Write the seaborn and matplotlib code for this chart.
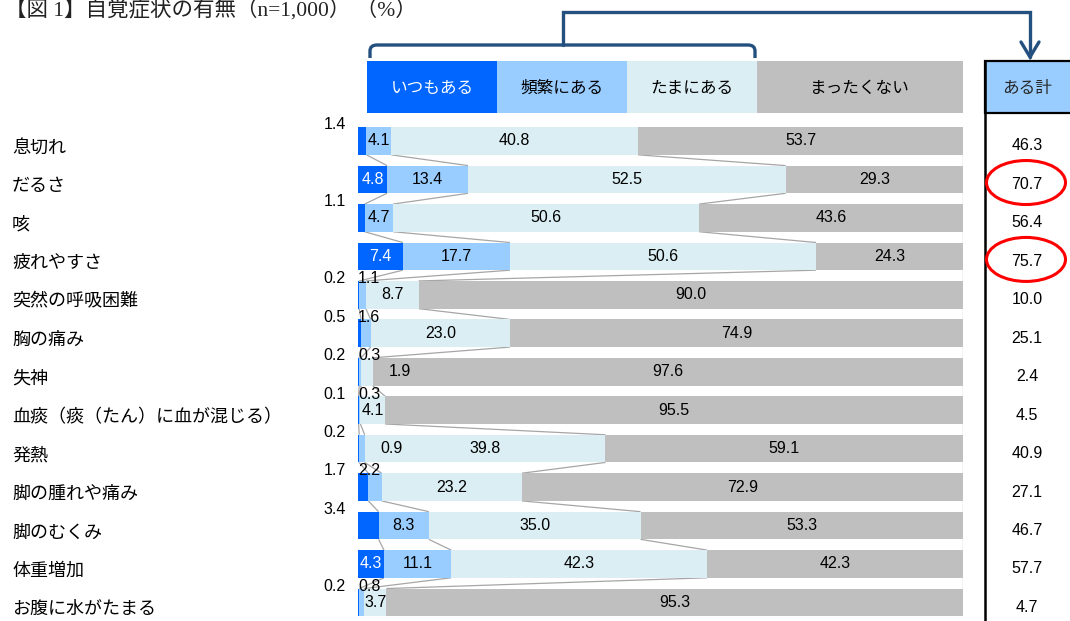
import numpy as np
import pandas as pd
import matplotlib
matplotlib.use("Agg")
import matplotlib.pyplot as plt
import seaborn as sns
from matplotlib.patches import Rectangle, Ellipse, PathPatch
from matplotlib.path import Path
from matplotlib.transforms import blended_transform_factory, ScaledTranslation

# ---- data (%) ----
symptoms = ["息切れ", "だるさ", "咳", "疲れやすさ", "突然の呼吸困難", "胸の痛み", "失神",
            "血痰（痰（たん）に血が混じる）", "発熱", "脚の腫れや痛み", "脚のむくみ",
            "体重増加", "お腹に水がたまる"]
always = [1.4, 4.8, 1.1, 7.4, 0.2, 0.5, 0.2, 0.1, 0.2, 1.7, 3.4, 4.3, 0.2]
often = [4.1, 13.4, 4.7, 17.7, 1.1, 1.6, 0.3, 0.3, 0.9, 2.2, 8.3, 11.1, 0.8]
sometimes = [40.8, 52.5, 50.6, 50.6, 8.7, 23.0, 1.9, 4.1, 39.8, 23.2, 35.0, 42.3, 3.7]
never = [53.7, 29.3, 43.6, 24.3, 90.0, 74.9, 97.6, 95.5, 59.1, 72.9, 53.3, 42.3, 95.3]
any_total = [46.3, 70.7, 56.4, 75.7, 10.0, 25.1, 2.4, 4.5, 40.9, 27.1, 46.7, 57.7, 4.7]
series_names = ["いつもある", "頻繁にある", "たまにある", "まったくない"]
total_name = "ある計"
title = "【図 1】自覚症状の有無（n=1,000） （%）"

colors = ["#0066FF", "#99CCFF", "#DAEEF3", "#BFBFBF"]
navy = "#24507F"
link_gray = "#A6A6A6"

sns.set_theme(style="white")
plt.rcParams["font.family"] = ["Liberation Sans", "Noto Sans CJK JP", "DejaVu Sans"]
JP = ["Noto Sans CJK JP", "DejaVu Sans"]

W, H = 1070, 621
fig = plt.figure(figsize=(W / 100, H / 100), dpi=100)
fig.patch.set_facecolor("white")

# pixel-space overlay for header, bracket and the total column
ov = fig.add_axes([0, 0, 1, 1])
ov.set_xlim(0, W)
ov.set_ylim(H, 0)
ov.axis("off")

# main bar axes
x_left, x_right = 358, 963
row0, pitch = 141, 38.45
n = len(symptoms)
top_px = row0 - pitch / 2
bot_px = row0 + (n - 0.5) * pitch
ax = fig.add_axes([x_left / W, 1 - bot_px / H, (x_right - x_left) / W, (bot_px - top_px) / H])
ax.patch.set_alpha(0)

series = [always, often, sometimes, never]
cum = np.cumsum(np.array(series, dtype=float), axis=0)  # shape (4, n)

# stacked bars: draw cumulative totals from the outermost segment inwards
for k in range(3, -1, -1):
    df = pd.DataFrame({"symptom": symptoms, "value": cum[k]})
    sns.barplot(data=df, x="value", y="symptom", orient="h", color=colors[k],
                saturation=1, width=0.72, errorbar=None, linewidth=0, ax=ax, zorder=2)

ax.set_xlim(0, 100)
ax.set_ylim(n - 0.5, -0.5)
ax.set_xlabel("")
ax.set_ylabel("")
ax.set_xticks([])
for s in ax.spines.values():
    s.set_visible(False)

# category labels, left aligned at the figure edge
ax.tick_params(axis="y", length=0, pad=(x_left - 12) * 0.72)
shift = ScaledTranslation(0, -5 / 100, fig.dpi_scale_trans)
for lab in ax.get_yticklabels():
    lab.set_ha("left")
    lab.set_fontfamily(JP)
    lab.set_fontsize(13)
    lab.set_color("black")
    lab.set_transform(lab.get_transform() + shift)

# series lines linking segment boundaries of adjacent bars
half = 0.36
for k in range(4):
    for i in range(n - 1):
        ax.plot([cum[k][i], cum[k][i + 1]], [i + half, i + 1 - half],
                color=link_gray, lw=0.9, zorder=1, solid_capstyle="butt")

# value labels
nudged = {("発熱", 1), ("失神", 2)}
px = 100 / (x_right - x_left)  # data units per pixel
fs = 11.5
for i, name in enumerate(symptoms):
    above_y = i - half - 0.06
    for k in range(4):
        v = series[k][i]
        start = cum[k][i] - v
        txt = f"{v:.1f}"
        if (name, k) in nudged:
            ax.text(cum[k][i] + 16 * px, i, txt, ha="left", va="center", fontsize=fs,
                    color="black", zorder=5)
        elif k == 0 and v < 4:
            ax.text(-2.0, above_y, txt, ha="right", va="center", fontsize=fs,
                    color="black", zorder=5, clip_on=False)
        elif k == 1 and v < 3:
            ax.text(0, above_y, txt, ha="left", va="center", fontsize=fs,
                    color="black", zorder=5, clip_on=False)
        else:
            ax.text(start + v / 2, i, txt, ha="center", va="center", fontsize=fs,
                    color="white" if k == 0 else "black", zorder=5)

# legend header boxes
box_edges = [367, 497, 627, 757, 963]
for k, name in enumerate(series_names):
    x0, x1 = box_edges[k], box_edges[k + 1]
    ov.add_patch(Rectangle((x0, 61), x1 - x0, 52, facecolor=colors[k], edgecolor="none"))
    ov.text((x0 + x1) / 2, 88, name, ha="center", va="center", fontsize=12,
            family=JP, color="white" if k == 0 else "black")

# bracket over the first three categories and arrow to the total column
bracket = Path([(370, 58), (370, 51), (370, 45), (377, 45), (748, 45), (755, 45), (755, 51), (755, 58)],
               [Path.MOVETO, Path.LINETO, Path.CURVE3, Path.CURVE3, Path.LINETO,
                Path.CURVE3, Path.CURVE3, Path.LINETO])
ov.add_patch(PathPatch(bracket, facecolor="none", edgecolor=navy, lw=2.4))
ov.plot([563, 563, 1030, 1030], [45, 12, 12, 57], color=navy, lw=2.4, solid_joinstyle="miter")
ov.plot([1021, 1030, 1039], [42, 57, 42], color=navy, lw=2.4, solid_joinstyle="miter")

# total column
col_x = 985
ov.add_patch(Rectangle((col_x, 61), W - col_x + 5, 52, facecolor="#99CCFF",
                       edgecolor="black", lw=1.6, clip_on=False))
ov.plot([col_x, col_x], [61, H], color="black", lw=1.8)
ov.text(1027, 88, total_name, ha="center", va="center", fontsize=12, family=JP)

tr = blended_transform_factory(ov.transData, ax.transData)
for i, v in enumerate(any_total):
    ax.text(1027, i + 0.13, f"{v:.1f}", transform=tr, ha="center", va="center",
            fontsize=fs, color="black", clip_on=False)

# highlight the two highest totals
for i in np.argsort(any_total)[-2:]:
    ax.add_patch(Ellipse((1026, i + 0.08), 79, 44 / pitch, transform=tr, fill=False,
                         edgecolor="#FF0000", lw=2.2, clip_on=False, zorder=6))

# title
ov.text(5, 10, title, ha="left", va="center", fontsize=15.5,
        family=["Liberation Serif", "Noto Sans CJK JP"], color="#222222")

fig.savefig("out.png", dpi=100)
